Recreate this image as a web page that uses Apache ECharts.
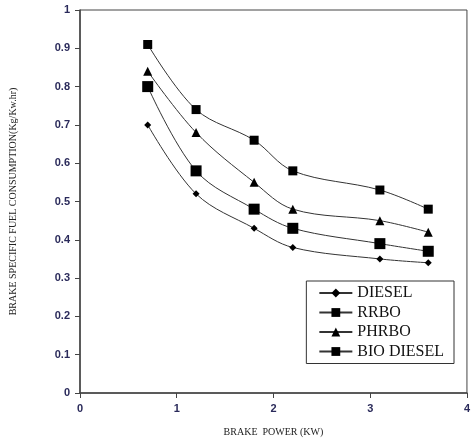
<!DOCTYPE html>
<html><head><meta charset="utf-8">
<script src="https://cdn.jsdelivr.net/npm/echarts@6/dist/echarts.min.js"></script>
<style>html,body{margin:0;padding:0;background:#fff}#c{width:473px;height:442px}</style>
</head><body><div id="c"></div>
<script>
const power = [0.7, 1.2, 1.8, 2.2, 3.1, 3.6];
const diesel = [0.70, 0.52, 0.43, 0.38, 0.35, 0.34];
const rrbo = [0.91, 0.74, 0.66, 0.58, 0.53, 0.48];
const phrbo = [0.84, 0.68, 0.55, 0.48, 0.45, 0.42];
const bioDiesel = [0.80, 0.58, 0.48, 0.43, 0.39, 0.37];
const xTicks = [0, 1, 2, 3, 4];
const yTicks = [0, 0.1, 0.2, 0.3, 0.4, 0.5, 0.6, 0.7, 0.8, 0.9, 1];

const pair = (xs, ys) => xs.map((x, i) => [x, ys[i]]);
const tickFont = {color: '#2a2a5a', fontFamily: 'Liberation Sans, Arial', fontWeight: 'bold', fontSize: 11};
function mk(name, data, symbol, size) {
  return {
    name, type: 'line', data: pair(power, data), smooth: 0.35,
    symbol, symbolSize: size, showSymbol: true,
    lineStyle: {color: '#333', width: 1},
    itemStyle: {color: '#000'},
    emphasis: {disabled: true}
  };
}
const chart = echarts.init(document.getElementById('c'), null, {renderer: 'canvas'});
chart.setOption({
  animation: false,
  grid: {left: 80, right: 2, top: 10, bottom: 49, show: true, borderColor: '#444', borderWidth: 1},
  legend: {
    right: 19, top: 281, orient: 'vertical', itemGap: 3.5, itemWidth: 33, itemHeight: 11,
    borderColor: '#333', borderWidth: 1, padding: [4, 10, 4, 12], backgroundColor: '#fff',
    textStyle: {fontFamily: 'Liberation Serif, Times New Roman', fontSize: 16, lineHeight: 15, color: '#111'},
    data: ['DIESEL', 'RRBO', 'PHRBO', 'BIO DIESEL']
  },
  xAxis: {
    type: 'value', min: 0, max: 4, interval: 1,
    name: 'BRAKE  POWER (KW)', nameLocation: 'middle', nameGap: 34,
    nameTextStyle: {fontFamily: 'Liberation Serif, Times New Roman', fontSize: 10, color: '#222'},
    axisLine: {lineStyle: {color: '#444', width: 1.5}},
    axisTick: {show: true, length: 5, lineStyle: {color: '#444'}},
    axisLabel: Object.assign({margin: 10, formatter: v => xTicks.includes(v) ? String(v) : ''}, tickFont),
    splitLine: {show: false}
  },
  yAxis: {
    type: 'value', min: 0, max: 1, interval: 0.1,
    name: 'BRAKE SPECIFIC FUEL CONSUMPTION(Kg/Kw.hr)', nameLocation: 'middle', nameGap: 62,
    nameTextStyle: {fontFamily: 'Liberation Serif, Times New Roman', fontSize: 10, color: '#222'},
    axisLine: {lineStyle: {color: '#444', width: 1.5}},
    axisTick: {show: true, length: 5, lineStyle: {color: '#444'}},
    axisLabel: Object.assign({margin: 10, formatter: v => {
      const t = yTicks.find(y => Math.abs(y - v) < 1e-6);
      return t === undefined ? '' : String(t);
    }}, tickFont),
    splitLine: {show: false}
  },
  series: [
    mk('DIESEL', diesel, 'diamond', 7),
    mk('RRBO', rrbo, 'rect', 9),
    mk('PHRBO', phrbo, 'triangle', 9),
    mk('BIO DIESEL', bioDiesel, 'rect', 11)
  ]
});
</script></body></html>
